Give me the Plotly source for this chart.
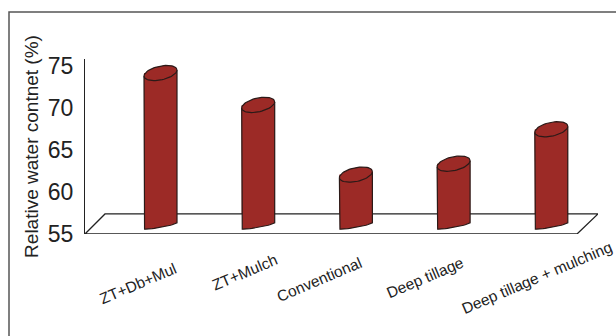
import numpy as np
import plotly.graph_objects as go

categories = ["ZT+Db+Mul", "ZT+Mulch", "Conventional", "Deep tillage", "Deep tillage + mulching"]
water_content = [73.2, 69.4, 61.1, 62.4, 66.5]
y_ticks = [55, 60, 65, 70, 75]

W, H = 616, 336
L, R, T, B = 85, 598, 59, 233.7
Y0, Y1 = 55, 75.85
XPX0, XSTEP = 160.5, 97.7          # pixel of first category, pixels per category
x_lo = (L - XPX0) / XSTEP
x_hi = (R - XPX0) / XSTEP
PX_Y = (B - T) / (Y1 - Y0)         # pixels per y unit

RED, INK = "#9c2a26", "#2b1a18"
DEPTH = 8.2 / PX_Y                 # lift of the bar foot above the floor front
HALF_W = 16.5 / XSTEP
TILT, TOP_B, FOOT_B = 3 / PX_Y, 7.0 / PX_Y, 1.6 / PX_Y

xs = list(range(len(categories)))
fig = go.Figure()

# floor of the 3-D box
fig.add_trace(go.Scatter(
    x=[x_lo, x_lo + 20 / XSTEP, x_hi, x_hi - 21 / XSTEP, x_lo],
    y=[Y0, Y0 + 20 / PX_Y, Y0 + 20 / PX_Y, Y0, Y0],
    mode="lines", fill="toself", fillcolor="white",
    line=dict(color="#222222", width=1.3), hoverinfo="skip", showlegend=False, cliponaxis=False))

# cylinder bodies
fig.add_trace(go.Bar(
    x=xs, y=[v - Y0 for v in water_content], base=Y0 + DEPTH,
    width=2 * HALF_W, marker=dict(color=RED, line=dict(width=0)), showlegend=False))

t = np.linspace(0, 2 * np.pi, 61)
for x, v in zip(xs, water_content):
    top = v + DEPTH
    foot = Y0 + DEPTH
    tf = np.linspace(np.pi, 2 * np.pi, 25)
    fx = x + HALF_W * np.cos(tf)
    fy = foot + TILT * np.cos(tf) + FOOT_B * np.sin(tf)
    ox = np.concatenate(([x - HALF_W], fx, [x + HALF_W]))
    oy = np.concatenate(([top - TILT], fy, [top + TILT]))
    fig.add_trace(go.Scatter(x=ox, y=oy, mode="lines", fill="toself", fillcolor=RED,
                             line=dict(color=INK, width=1.2), hoverinfo="skip", showlegend=False))
    ex = x + HALF_W * np.cos(t)
    ey = top + TILT * np.cos(t) + TOP_B * np.sin(t)
    fig.add_trace(go.Scatter(x=ex, y=ey, mode="lines", fill="toself", fillcolor=RED,
                             line=dict(color=INK, width=1.2), hoverinfo="skip", showlegend=False))

def paper_x(px):
    return (px - L) / (R - L)

def paper_y(py):
    return (B - py) / (B - T)

label_px = [(138, 283), (244, 272), (319, 279), (425, 277), (537, 277)]
annotations = [
    dict(text=c, x=paper_x(px), y=paper_y(py), xref="paper", yref="paper",
         xanchor="center", yanchor="middle", showarrow=False, textangle=-23,
         font=dict(family="Liberation Sans", size=15.5, color="#222222"))
    for c, (px, py) in zip(categories, label_px)
]

fig.update_layout(
    width=W, height=H, autosize=False,
    margin=dict(l=L, r=W - R, t=T, b=H - B, pad=0),
    paper_bgcolor="white", plot_bgcolor="white", barmode="overlay",
    xaxis=dict(range=[x_lo, x_hi], showgrid=False, zeroline=False, showline=False,
               showticklabels=False, ticks=""),
    yaxis=dict(range=[Y0, Y1], tickvals=y_ticks, showgrid=False, zeroline=False, showline=True,
               linecolor="#222222", linewidth=1.3, ticks="", ticklen=0, ticklabelstandoff=6,
               tickfont=dict(family="Liberation Sans", size=23, color="#222222"),
               title=dict(text="Relative water contnet (%)", standoff=4,
                          font=dict(family="Liberation Sans", size=19, color="#222222"))),
    annotations=annotations,
    shapes=[dict(type="rect", xref="paper", yref="paper",
                 x0=paper_x(9), x1=paper_x(W + 20),
                 y0=paper_y(H + 20), y1=paper_y(12),
                 line=dict(color="#555555", width=1.5), layer="below")],
)
fig.write_html("out.html", config=dict(displayModeBar=False),
               post_script="document.body.style.margin='0';document.documentElement.style.overflow='hidden';")
